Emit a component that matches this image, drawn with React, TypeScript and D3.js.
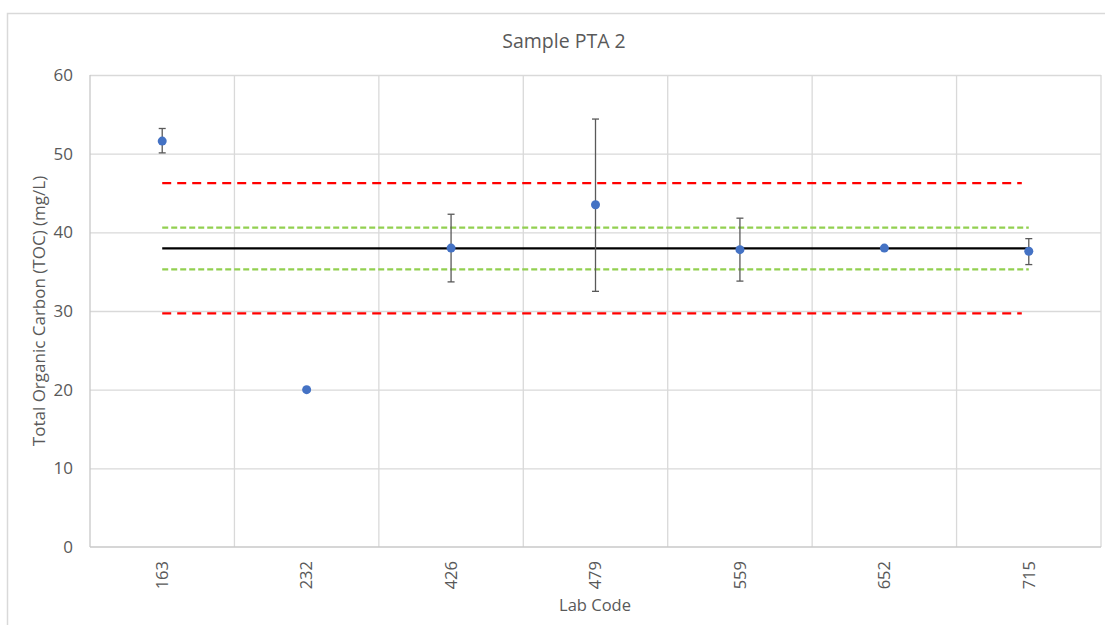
import { useEffect, useRef } from 'react';
import * as d3 from 'd3';

const labCodes = ['163', '232', '426', '479', '559', '652', '715'];
const results = [51.6, 20.0, 38.0, 43.5, 37.8, 38.0, 37.6];
const errUpper = [53.2, null, 42.3, 54.4, 41.8, null, 39.2];
const errLower = [50.1, null, 33.7, 32.5, 33.8, null, 35.9];

// assigned value and the warning / action limits
const assignedValue = 37.95;
const warningLimits = [40.6, 35.3];
const actionLimits = [46.25, 29.7];

const yTicks = [0, 10, 20, 30, 40, 50, 60];

const W = 1105;
const H = 625;
const FONT = '"Open Sans", sans-serif';
const TEXT = '#595959';
const GRID = '#d9d9d9';

const App = () => {
	const svgRef = useRef<SVGSVGElement>(null);

	useEffect(() => {
		const svg = d3.select(svgRef.current);
		svg.selectAll('*').remove();

		const left = 90;
		const right = 1101;
		const top = 75;
		const bottom = 547;

		const x = d3.scaleBand().domain(labCodes).range([left, right]).padding(0);
		const y = d3.scaleLinear().domain([0, 60]).range([bottom, top]);
		const cx = (c: string) => (x(c) as number) + x.bandwidth() / 2;

		// chart area border (runs off the picture on right and bottom)
		svg.append('rect')
			.attr('x', 7.5)
			.attr('y', 13.5)
			.attr('width', 1130)
			.attr('height', 640)
			.attr('fill', '#fff')
			.attr('stroke', GRID)
			.attr('stroke-width', 1.5);

		svg.append('text')
			.attr('x', 564)
			.attr('y', 48)
			.attr('text-anchor', 'middle')
			.attr('fill', TEXT)
			.style('font', `19.5px ${FONT}`)
			.text('Sample PTA 2');

		// gridlines
		svg.append('g')
			.selectAll('line')
			.data(yTicks.slice(1))
			.join('line')
			.attr('x1', left)
			.attr('x2', right)
			.attr('y1', d => y(d) + 0.5)
			.attr('y2', d => y(d) + 0.5)
			.attr('stroke', GRID)
			.attr('stroke-width', 1.3);

		const bounds = labCodes.map(c => (x(c) as number) + x.bandwidth());
		svg.append('g')
			.selectAll('line')
			.data(bounds)
			.join('line')
			.attr('x1', d => d)
			.attr('x2', d => d)
			.attr('y1', top)
			.attr('y2', bottom)
			.attr('stroke', GRID)
			.attr('stroke-width', 1.3);

		// axis lines
		svg.append('line')
			.attr('x1', left).attr('x2', left)
			.attr('y1', top).attr('y2', bottom)
			.attr('stroke', '#c8c8c8').attr('stroke-width', 1.3);
		svg.append('line')
			.attr('x1', left).attr('x2', right)
			.attr('y1', bottom).attr('y2', bottom)
			.attr('stroke', '#c8c8c8').attr('stroke-width', 1.3);

		// y tick labels
		svg.append('g')
			.selectAll('text')
			.data(yTicks)
			.join('text')
			.attr('x', 73)
			.attr('y', d => y(d))
			.attr('dy', '0.35em')
			.attr('text-anchor', 'end')
			.attr('fill', TEXT)
			.style('font', `17px ${FONT}`)
			.text(d => d);

		// x tick labels, rotated
		svg.append('g')
			.selectAll('text')
			.data(labCodes)
			.join('text')
			.attr('transform', d => `translate(${cx(d)},561) rotate(-90)`)
			.attr('dy', '0.35em')
			.attr('text-anchor', 'end')
			.attr('fill', TEXT)
			.style('font', `16.5px ${FONT}`)
			.text(d => d);

		svg.append('text')
			.attr('transform', `translate(45,311) rotate(-90)`)
			.attr('text-anchor', 'middle')
			.attr('fill', TEXT)
			.style('font', `17px ${FONT}`)
			.text('Total Organic Carbon (TOC) (mg/L)');

		svg.append('text')
			.attr('x', 595)
			.attr('y', 611)
			.attr('text-anchor', 'middle')
			.attr('fill', TEXT)
			.style('font', `16.5px ${FONT}`)
			.text('Lab Code');

		// reference lines
		const x0 = cx(labCodes[0]);
		const x1 = cx(labCodes[labCodes.length - 1]);
		const hline = (v: number, color: string, width: number, dash: string | null, xEnd = x1) => {
			svg.append('line')
				.attr('x1', x0)
				.attr('x2', xEnd)
				.attr('y1', y(v))
				.attr('y2', y(v))
				.attr('stroke', color)
				.attr('stroke-width', width)
				.attr('stroke-dasharray', dash);
		};
		actionLimits.forEach(v => hline(v, '#ff0000', 2.4, '9 6', x1 - 7));
		warningLimits.forEach(v => hline(v, '#92d050', 2.2, '6 3'));
		hline(assignedValue, '#000', 2.2, null);

		// error bars
		const bars = labCodes
			.map((c, i) => ({ c, hi: errUpper[i], lo: errLower[i] }))
			.filter(d => d.hi != null && d.lo != null);
		const eb = svg.append('g').attr('stroke', '#595959').attr('stroke-width', 1.3);
		bars.forEach(d => {
			const px = cx(d.c);
			eb.append('line').attr('x1', px).attr('x2', px).attr('y1', y(d.hi as number)).attr('y2', y(d.lo as number));
			eb.append('line').attr('x1', px - 3.5).attr('x2', px + 3.5).attr('y1', y(d.hi as number)).attr('y2', y(d.hi as number));
			eb.append('line').attr('x1', px - 3.5).attr('x2', px + 3.5).attr('y1', y(d.lo as number)).attr('y2', y(d.lo as number));
		});

		// results
		svg.append('g')
			.selectAll('circle')
			.data(results)
			.join('circle')
			.attr('cx', (d, i) => cx(labCodes[i]))
			.attr('cy', d => y(d))
			.attr('r', 4.5)
			.attr('fill', '#4472c4');
	}, []);

	return (
		<div style={{ position: 'absolute', left: 0, top: 0 }}>
			<svg ref={svgRef} width={W} height={H} style={{ display: 'block' }}></svg>
		</div>
	);
};

export default App;
